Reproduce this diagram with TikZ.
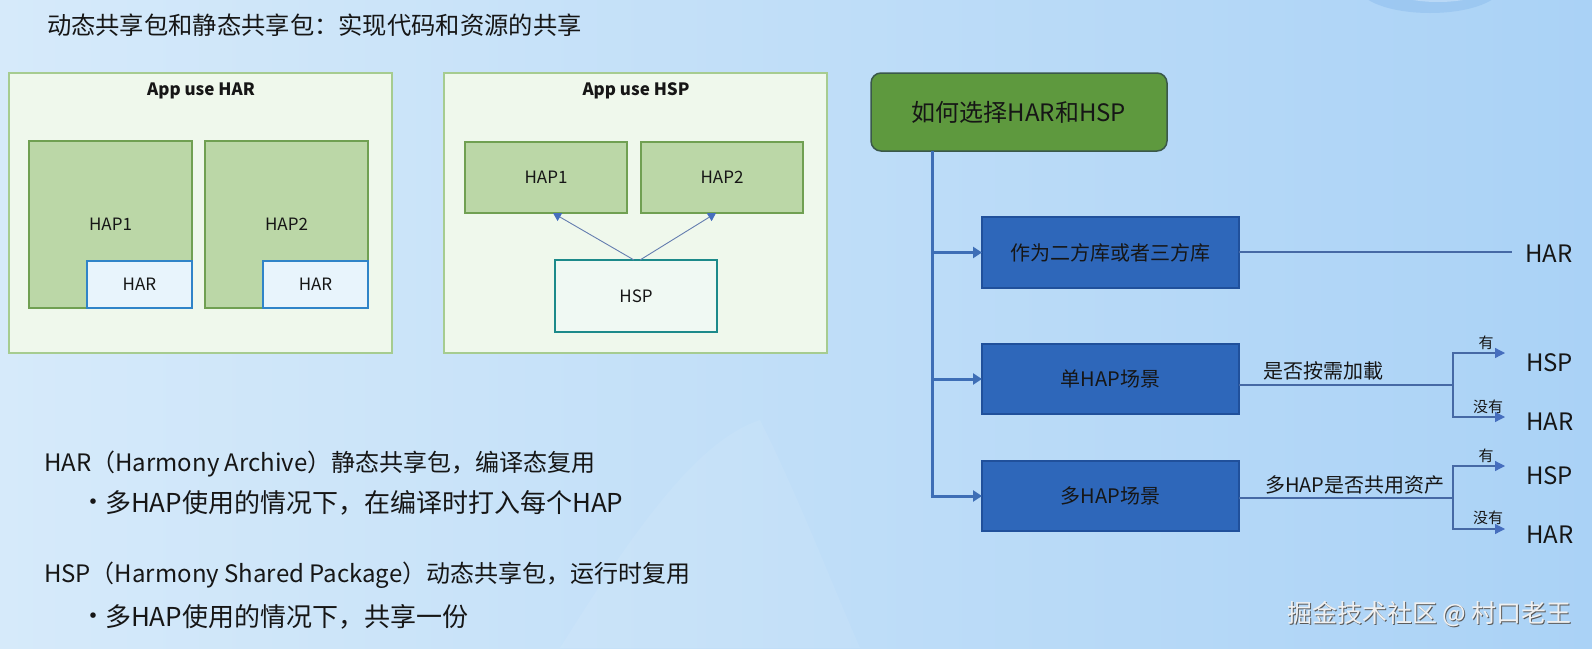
\documentclass[tikz,border=0pt]{standalone}
\usepackage{fontspec}
\setmainfont{Noto Sans CJK SC}
\usetikzlibrary{arrows.meta}
\definecolor{bgL}{RGB}{214,234,250}
\definecolor{bgR}{RGB}{170,210,246}
\definecolor{txt}{RGB}{22,22,22}
\definecolor{outerB}{RGB}{166,204,144}
\definecolor{outerF}{RGB}{239,248,236}
\definecolor{hapB}{RGB}{112,160,82}
\definecolor{hapF}{RGB}{187,215,167}
\definecolor{harB}{RGB}{48,132,200}
\definecolor{harF}{RGB}{232,244,252}
\definecolor{hspB}{RGB}{28,138,138}
\definecolor{hspF}{RGB}{240,249,243}
\definecolor{arrC}{RGB}{70,110,190}
\definecolor{lineC}{RGB}{100,125,175}
\definecolor{topB}{RGB}{58,88,74}
\definecolor{topF}{RGB}{94,153,62}
\definecolor{chB}{RGB}{32,80,155}
\definecolor{chF}{RGB}{46,103,186}
\definecolor{trk}{RGB}{62,110,182}
\definecolor{outC}{RGB}{70,105,165}
\definecolor{swirl}{RGB}{150,195,240}
\newcommand\fsz[1]{\fontsize{#1}{#1}\selectfont}
\begin{document}
\begin{tikzpicture}[x=1pt,y=-1pt,
  every node/.style={inner sep=0pt, outer sep=0pt, text=txt},
  outerbox/.style={draw=outerB, fill=outerF, line width=1.5pt, anchor=north west},
  hapbox/.style={draw=hapB, fill=hapF, line width=1.2pt, anchor=north west, font=\fsz{17}},
  harbox/.style={draw=harB, fill=harF, line width=2pt, anchor=north west, font=\fsz{17}},
  hspbox/.style={draw=hspB, fill=hspF, line width=2pt, anchor=north west, font=\fsz{17}},
  boxtitle/.style={font=\fsz{17}\bfseries},
  hsparrow/.style={draw=lineC, line width=0.9pt, -{Triangle[length=8pt,width=9pt,color=arrC]}},
  topbox/.style={draw=topB, fill=topF, line width=1.5pt, rounded corners=10pt, anchor=north west, font=\fsz{24}},
  choicebox/.style={draw=chB, fill=chF, line width=1.2pt, anchor=north west, font=\fsz{20}},
  trunk/.style={draw=trk, line width=3pt},
  trunkarrow/.style={draw=trk, line width=3pt, -{Triangle[length=9pt,width=11pt]}},
  outline/.style={draw=outC, line width=1.2pt},
  outarrow/.style={draw=outC, line width=1.2pt, -{Triangle[length=10pt,width=10pt,color=arrC]}},
  resulttext/.style={font=\fsz{24}, anchor=west},
  condtext/.style={font=\fsz{20}, anchor=west},
  yesno/.style={font=\fsz{15}},
  bodytext/.style={font=\fsz{24}, anchor=west},
  bullettext/.style={font=\fsz{26}, anchor=west},
]
% background
\useasboundingbox (0,0) rectangle (1592,648);
\shade[left color=bgL, right color=bgR] (0,0) rectangle (1592,648);
\fill[white, opacity=0.07] (560,648) .. controls (640,520) and (700,440) .. (760,420) .. controls (800,500) and (830,580) .. (860,648) -- cycle;
\fill[swirl, opacity=0.7] (1430,-14) ellipse [x radius=72pt, y radius=27pt];
\fill[bgR!60!white, opacity=0.6] (1438,-20) ellipse [x radius=60pt, y radius=22pt];

% heading
\node[font=\fsz{24.3}, anchor=west] (heading) at (47,25) {动态共享包和静态共享包：实现代码和资源的共享};

% App use HAR
\node[outerbox, minimum width=383pt, minimum height=280pt] (appHAR) at (9,73) {};
\node[boxtitle] (appHARt) at (201,91) {App use HAR};
\node[hapbox, minimum width=163pt, minimum height=167pt] (hapA) at (29,141) {HAP1};
\node[harbox, minimum width=105pt, minimum height=47pt] (harA) at (87,261) {HAR};
\node[hapbox, minimum width=163pt, minimum height=167pt] (hapB) at (205,141) {HAP2};
\node[harbox, minimum width=105pt, minimum height=47pt] (harB) at (263,261) {HAR};

% App use HSP
\node[outerbox, minimum width=383pt, minimum height=280pt] (appHSP) at (444,73) {};
\node[boxtitle] (appHSPt) at (636,91) {App use HSP};
\node[hapbox, minimum width=162pt, minimum height=71pt] (hapC) at (465,142) {HAP1};
\node[hapbox, minimum width=162pt, minimum height=71pt] (hapD) at (641,142) {HAP2};
\node[hspbox, minimum width=162pt, minimum height=72pt] (hsp) at (555,260) {HSP};
\draw[hsparrow] ([xshift=-2pt]hsp.north) -- ([xshift=7pt]hapC.south);
\draw[hsparrow] ([xshift=4pt]hsp.north) -- ([xshift=-6pt]hapD.south);

% decision tree
\node[topbox, minimum width=296pt, minimum height=78pt] (top) at (871,73) {如何选择HAR和HSP};
\node[choicebox, minimum width=257pt, minimum height=71pt] (c1) at (982,217) {作为二方库或者三方库};
\node[choicebox, minimum width=257pt, minimum height=70pt] (c2) at (982,344) {单HAP场景};
\node[choicebox, minimum width=257pt, minimum height=70pt] (c3) at (982,461) {多HAP场景};
\coordinate (t0) at (932,151);
\draw[trunk] (t0) -- (t0 |- c3.west);
\draw[trunkarrow] (t0 |- c1.west) -- (c1.west);
\draw[trunkarrow] (t0 |- c2.west) -- (c2.west);
\draw[trunkarrow] ([xshift=-1.5pt]t0 |- c3.west) -- (c3.west);

% branch 1
\node[resulttext] (r1) at (1525,254) {HAR};
\coordinate (e1) at (1512,252);
\draw[outline] (c1.east |- e1) -- (e1);

% branch 2
\coordinate (j1) at (1453,385);
\draw[outline] (c2.east |- j1) -- (j1);
\node[condtext] (q1) at (1263,371) {是否按需加載};
\coordinate (y1) at (1505,353);
\coordinate (n1) at (1505,417);
\draw[outarrow] (j1) |- (y1);
\draw[outarrow] (j1) |- (n1);
\node[yesno] (y1t) at (1486,343) {有};
\node[yesno] (n1t) at (1488,407) {没有};
\node[resulttext] (r2) at (1526,363) {HSP};
\node[resulttext] (r3) at (1526,422) {HAR};

% branch 3
\coordinate (j2) at (1453,498);
\draw[outline] (c3.east |- j2) -- (j2);
\node[condtext] (q2) at (1265,485) {多HAP是否共用资产};
\coordinate (y2) at (1505,466);
\coordinate (n2) at (1505,529);
\draw[outarrow] (j2) |- (y2);
\draw[outarrow] (j2) |- (n2);
\node[yesno] (y2t) at (1486,456) {有};
\node[yesno] (n2t) at (1488,518) {没有};
\node[resulttext] (r4) at (1526,476) {HSP};
\node[resulttext] (r5) at (1526,535) {HAR};

% explanatory text
\node[bodytext] (l1) at (44,464) {HAR（Harmony Archive）静态共享包，编译态复用};
\node[bullettext] (b1) at (80,505) {•};
\node[bullettext] (l2) at (105,503) {多HAP使用的情况下，在编译时打入每个HAP};
\node[bodytext] (l3) at (44,575) {HSP（Harmony Shared Package）动态共享包，运行时复用};
\node[bullettext] (b2) at (80,619) {•};
\node[bullettext] (l4) at (105,617) {多HAP使用的情况下，共享一份};

% watermark
\node[font=\fsz{25}, anchor=west, text=black!65] at (1288,615) {掘金技术社区 @ 村口老王};
\node[font=\fsz{25}, anchor=west, text=white!88!gray] (wm) at (1287,614) {掘金技术社区 @ 村口老王};
\end{tikzpicture}
\end{document}
